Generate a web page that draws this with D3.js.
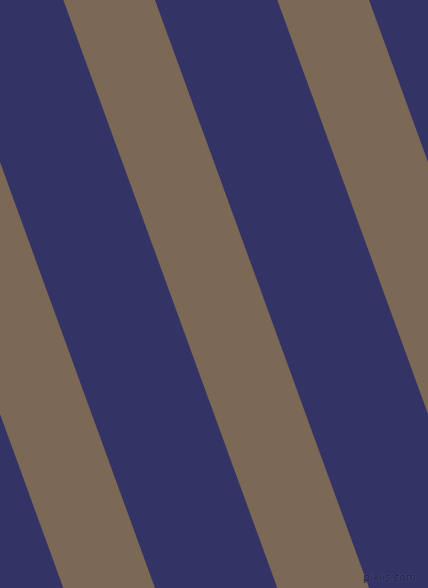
<!DOCTYPE html>
<html>
<head>
<meta charset="utf-8">
<script src="https://cdn.jsdelivr.net/npm/d3@7"></script>
<style>
  html, body { margin: 0; padding: 0; background: #343366; overflow: hidden; }
  svg { display: block; }
</style>
</head>
<body>
<script>
// Data: stripe sequence (index of each brown stripe across the pattern) and palette
const stripeIndex = [-3, -2, -1, 0, 1, 2];
const stripeColors = ["#7b6855"];
const backgroundColor = ["#343366"];
const watermark = ["pixlis.com"];

const W = 428, H = 588;
const angle = -20;                    // stripe tilt (degrees)
const period = 214 * Math.cos(20 * Math.PI / 180);   // perpendicular period
const brownShare = 91.7 / 214;        // fraction of period that is brown

const svg = d3.select("body").append("svg")
  .attr("width", W).attr("height", H);

svg.append("rect")
  .attr("width", W).attr("height", H)
  .attr("fill", backgroundColor[0]);

const u = d3.scaleLinear().domain([0, 1]).range([0, period]);

const g = svg.append("g")
  .attr("transform", `translate(63.3,0) rotate(${angle})`);

g.selectAll("rect.stripe")
  .data(stripeIndex)
  .join("rect")
  .attr("class", "stripe")
  .attr("x", d => u(d))
  .attr("y", -1000)
  .attr("width", u(brownShare) - u(0))
  .attr("height", 3000)
  .attr("fill", stripeColors[0]);

svg.append("text")
  .attr("x", 416).attr("y", 581)
  .attr("text-anchor", "end")
  .attr("font-family", "DejaVu Sans, sans-serif")
  .attr("font-size", 10.5)
  .attr("fill", "#1c1c40")
  .attr("stroke", "#5a5a8a")
  .attr("stroke-width", 0.6)
  .attr("paint-order", "stroke")
  .text(watermark[0]);
</script>
</body>
</html>
